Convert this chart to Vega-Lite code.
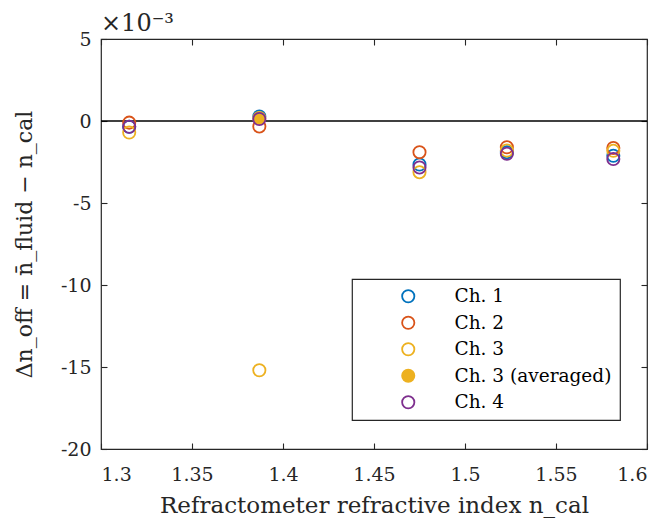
{
  "$schema": "https://vega.github.io/schema/vega-lite/v6.json",
  "width": 546,
  "height": 410,
  "autosize": {"type": "none"},
  "padding": {"left": 101, "top": 39, "right": 18, "bottom": 80},
  "background": "white",
  "config": {
    "font": "DejaVu Serif",
    "view": {"stroke": "#262626", "strokeWidth": 1.2},
    "axis": {
      "grid": false,
      "domain": false,
      "tickColor": "#262626",
      "tickWidth": 1.1,
      "tickSize": -6,
      "labelFont": "DejaVu Serif",
      "labelFontSize": 19,
      "labelColor": "#262626",
      "titleFont": "DejaVu Serif",
      "titleFontSize": 23,
      "titleFontWeight": "normal",
      "titleColor": "#262626"
    },
    "legend": {
      "orient": "none",
      "legendX": 251,
      "legendY": 240,
      "strokeColor": "#262626",
      "strokeWidth": 1.2,
      "fillColor": "white",
      "padding": 8,
      "labelFont": "DejaVu Serif",
      "labelFontSize": 18.5,
      "labelColor": "#000000",
      "symbolOffset": 39,
      "labelOffset": 37,
      "rowPadding": 6.5,
      "symbolSize": 150,
      "symbolStrokeWidth": 1.8,
      "labelLimit": 300
    }
  },
  "title": {
    "text": "×10⁻³",
    "anchor": "start",
    "frame": "group",
    "fontSize": 24,
    "fontWeight": "normal",
    "font": "DejaVu Serif",
    "color": "#262626",
    "offset": -6
  },
  "resolve": {"axis": {"x": "independent", "y": "independent"}},
  "layer": [
    {
      "data": {"values": [{"line": "zero"}]},
      "mark": {"type": "rule", "color": "#000000", "strokeWidth": 1.5},
      "encoding": {
        "x": {"datum": 1.3, "type": "quantitative",
              "scale": {"domain": [1.3, 1.6], "nice": false, "zero": false},
              "axis": {"orient": "top", "labels": false, "title": null, "values": [1.3, 1.35, 1.4, 1.45, 1.5, 1.55, 1.6]}},
        "x2": {"datum": 1.6},
        "y": {"datum": 0, "type": "quantitative",
              "scale": {"domain": [-20, 5], "nice": false, "zero": false},
              "axis": {"orient": "right", "labels": false, "title": null, "values": [-20, -15, -10, -5, 0, 5]}}
      }
    },
    {
      "data": {
        "values": [
          {"n_cal": 1.3155, "dn_off_e3": -0.35, "series": "Ch. 1"},
          {"n_cal": 1.387, "dn_off_e3": 0.28, "series": "Ch. 1"},
          {"n_cal": 1.475, "dn_off_e3": -2.65, "series": "Ch. 1"},
          {"n_cal": 1.523, "dn_off_e3": -1.9, "series": "Ch. 1"},
          {"n_cal": 1.5815, "dn_off_e3": -2.12, "series": "Ch. 1"},
          {"n_cal": 1.3155, "dn_off_e3": -0.1, "series": "Ch. 2"},
          {"n_cal": 1.387, "dn_off_e3": -0.33, "series": "Ch. 2"},
          {"n_cal": 1.475, "dn_off_e3": -1.9, "series": "Ch. 2"},
          {"n_cal": 1.523, "dn_off_e3": -1.6, "series": "Ch. 2"},
          {"n_cal": 1.5815, "dn_off_e3": -1.65, "series": "Ch. 2"},
          {"n_cal": 1.3155, "dn_off_e3": -0.7, "series": "Ch. 3"},
          {"n_cal": 1.387, "dn_off_e3": -15.2, "series": "Ch. 3"},
          {"n_cal": 1.475, "dn_off_e3": -3.12, "series": "Ch. 3"},
          {"n_cal": 1.523, "dn_off_e3": -1.8, "series": "Ch. 3"},
          {"n_cal": 1.5815, "dn_off_e3": -1.82, "series": "Ch. 3"},
          {"n_cal": 1.387, "dn_off_e3": 0.18, "series": "Ch. 3 (averaged)"},
          {"n_cal": 1.3155, "dn_off_e3": -0.35, "series": "Ch. 4"},
          {"n_cal": 1.387, "dn_off_e3": 0.12, "series": "Ch. 4"},
          {"n_cal": 1.475, "dn_off_e3": -2.83, "series": "Ch. 4"},
          {"n_cal": 1.523, "dn_off_e3": -2.0, "series": "Ch. 4"},
          {"n_cal": 1.5815, "dn_off_e3": -2.32, "series": "Ch. 4"}
        ]
      },
      "mark": {"type": "point", "shape": "circle", "size": 150, "strokeWidth": 1.8, "opacity": 1},
      "encoding": {
        "x": {"field": "n_cal", "type": "quantitative",
              "scale": {"domain": [1.3, 1.6], "nice": false, "zero": false},
              "axis": {"orient": "bottom", "values": [1.3, 1.35, 1.4, 1.45, 1.5, 1.55, 1.6],
                       "labelExpr": "'' + datum.value", "labelPadding": 22,
                       "title": "Refractometer refractive index n_cal", "titlePadding": 10}},
        "y": {"field": "dn_off_e3", "type": "quantitative",
              "scale": {"domain": [-20, 5], "nice": false, "zero": false},
              "axis": {"orient": "left", "values": [-20, -15, -10, -5, 0, 5],
                       "labelExpr": "'' + datum.value", "labelPadding": 16,
                       "title": "Δn_off = n̄_fluid − n_cal", "titleFontSize": 22, "titlePadding": 24}},
        "stroke": {"field": "series", "type": "nominal", "title": null,
                   "scale": {"domain": ["Ch. 1", "Ch. 2", "Ch. 3", "Ch. 3 (averaged)", "Ch. 4"],
                             "range": ["#0072BD", "#D95319", "#EDB120", "#EDB120", "#7E2F8E"]}},
        "fill": {"field": "series", "type": "nominal", "title": null,
                 "scale": {"domain": ["Ch. 1", "Ch. 2", "Ch. 3", "Ch. 3 (averaged)", "Ch. 4"],
                           "range": ["transparent", "transparent", "transparent", "#EDB120", "transparent"]}}
      }
    }
  ]
}
